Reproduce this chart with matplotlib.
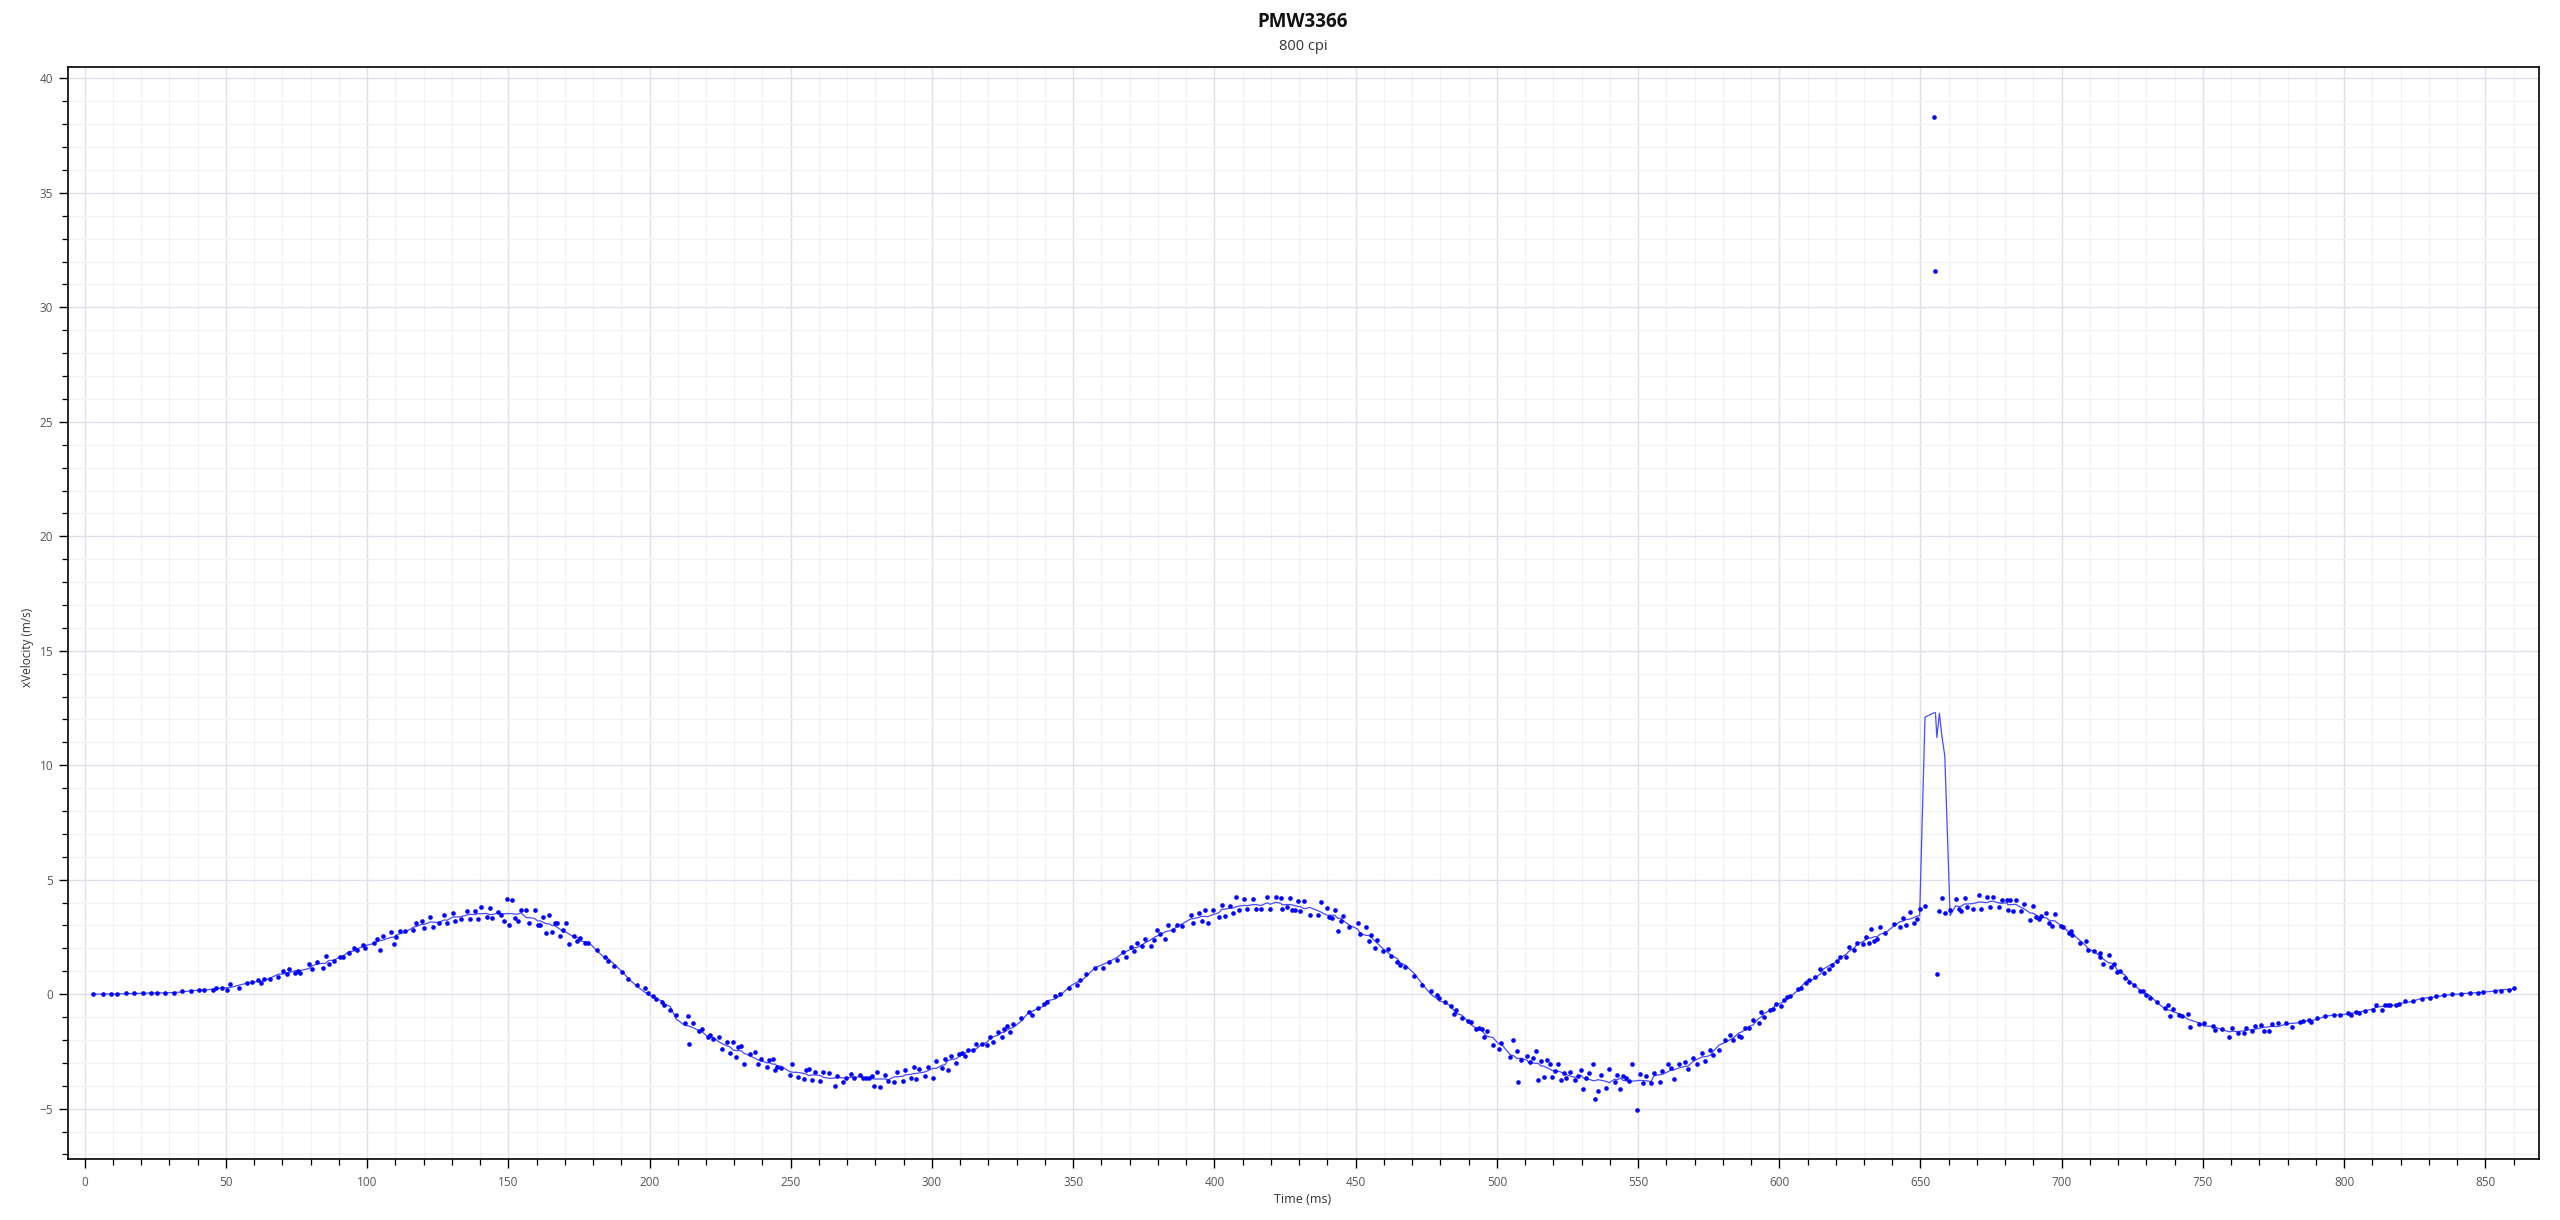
import numpy as np
import matplotlib
matplotlib.use("Agg")
import matplotlib.pyplot as plt
from matplotlib.ticker import MultipleLocator

plt.rcParams['font.family'] = ['Open Sans', 'DejaVu Sans']

title = "PMW3366"
subtitle = "800 cpi"
x_label = "Time (ms)"
y_label = "xVelocity (m/s)"

time_ms = [
    2.8, 6.6, 9.5, 11.6, 14.5, 17.5, 20.6, 23.5, 25.5, 28.4, 31.5, 34.5, 37.5, 40.4, 42.4, 45.4,
    46.5, 48.5, 50.5, 51.5, 54.5, 57.5, 59.4, 61.4, 62.5, 63.4, 65.5, 68.5, 70.3, 71.5, 72.4, 74.4,
    75.4, 76.4, 79.3, 80.4, 82.4, 84.3, 85.3, 86.4, 88.4, 90.5, 91.3, 93.6, 95.4, 96.5, 98.5, 99.4,
    102.5, 103.5, 104.6, 105.6, 108.4, 109.4, 110.3, 111.5, 113.4, 116.4, 117.3, 119.3, 120.3, 122.4,
    123.4, 125.3, 127.3, 128.3, 130.4, 131.3, 133.3, 135.4, 136.4, 138.3, 139.3, 140.3, 142.4, 143.4,
    144.3, 146.3, 147.3, 148.4, 149.4, 150.3, 151.3, 152.3, 153.3, 154.4, 156.4, 157.3, 159.3, 160.4,
    161.3, 162.4, 163.4, 164.3, 165.4, 166.4, 167.4, 168.4, 169.4, 170.3, 171.5, 173.3, 174.4, 175.5,
    177.3, 178.3, 181.4, 184.3, 185.3, 187.3, 190.4, 192.5, 195.5, 198.3, 199.3, 201.3, 202.4, 204.3,
    205.3, 207.3, 209.4, 212.5, 213.7, 213.8,
    215.5, 217.5, 218.5, 220.6, 221.4, 222.5, 224.5, 225.5, 227.5, 228.4, 229.6, 230.5, 231.5, 232.5,
    233.5, 235.4, 237.4, 238.5, 239.5, 241.5, 242.4, 243.6, 244.5, 245.3, 246.5, 249.6, 250.6, 252.4,
    254.6, 255.5, 256.4, 257.6, 258.5, 260.5, 261.5, 263.6, 265.5, 266.5, 268.5, 269.5, 271.4, 272.5,
    274.5, 275.5, 276.5, 277.6, 278.6, 279.6, 280.5, 281.5, 283.5, 284.6, 286.6, 287.5, 289.6, 290.6,
    292.6, 293.6, 294.5, 295.5, 297.5, 298.6, 300.4, 301.5, 303.6, 304.6, 305.6, 306.6, 308.5, 309.7,
    310.6, 311.6, 312.6, 314.6, 315.5, 317.6, 319.6, 320.6, 321.7, 323.5, 324.7, 325.5, 326.6, 327.6,
    328.6, 331.5, 334.5, 335.4, 337.5, 339.5, 340.6, 343.5, 345.5, 348.6, 351.5, 352.5, 354.5, 357.6,
    360.5, 362.6, 365.5, 367.5, 368.7, 370.5, 371.6, 372.5, 374.5, 375.5, 377.5, 378.6, 379.6, 380.6,
    382.6, 383.6, 385.5, 386.6, 388.6, 391.6, 392.6, 394.5, 395.5, 396.5, 397.6, 399.6, 401.6, 402.7,
    403.6, 405.6, 406.6, 407.6, 408.6, 410.6, 411.6, 413.6, 414.7, 416.6, 418.6, 419.7, 421.7, 423.6,
    423.9, 425.6, 426.6, 427.6, 428.7, 429.7, 430.4,
    431.8, 433.8, 436.7, 437.7, 439.8, 440.6, 441.6, 442.6, 443.7, 444.7, 445.7, 447.8, 450.7, 451.7,
    453.6, 454.6, 455.6, 456.7, 457.7, 459.7, 461.6, 462.7, 464.7, 465.7, 467.6, 470.7, 473.6, 476.7,
    478.7, 479.7, 481.6, 483.7, 484.7, 485.7, 487.6, 489.7, 490.7, 492.7, 493.6, 494.6, 495.6, 496.6,
    498.5, 500.6, 501.6, 504.7, 505.9, 507.1, 507.6, 508.7, 510.6, 511.7, 512.7, 513.8, 514.6, 515.7,
    516.6, 517.7, 518.7, 519.7, 520.6, 521.7, 522.7, 523.7, 524.6, 525.8, 527.6, 528.6, 529.7, 530.6,
    531.7, 532.7, 534.1, 534.8, 535.8, 536.8, 538.7, 539.8, 541.7, 542.7, 543.7, 544.7, 545.8, 546.7,
    548.0, 549.7, 550.7, 551.7, 552.7, 554.6, 555.6, 557.6, 558.6, 560.6, 561.6, 562.6, 564.5, 566.6,
    567.6, 569.6, 570.7, 572.7, 573.6, 575.6, 576.6, 578.7, 580.7, 582.6, 583.7, 585.7, 586.6, 587.7,
    589.4, 590.7, 592.7, 593.6, 594.6, 596.7, 597.7, 598.7, 600.6, 601.6, 602.6, 603.7, 606.6, 607.6,
    609.6, 610.6, 612.6, 614.6, 615.7, 617.7, 618.7, 620.6, 621.6, 623.7, 624.7, 626.6, 627.6, 629.7,
    630.7, 631.7, 632.5, 633.7, 634.7, 635.7, 637.6, 640.7, 642.8, 643.7, 644.7, 646.2,
    647.8, 648.6, 649.7, 651.6, 654.8, 655.3, 655.8, 656.7, 657.6, 658.6, 660.5, 662.5, 663.5, 664.4,
    665.6, 666.5, 668.6, 670.6, 671.6, 673.5, 674.6, 675.6, 677.7, 678.7, 680.6, 680.9, 681.7, 682.6,
    683.7, 685.7, 686.5, 688.9, 689.8, 690.8, 692.0, 692.7, 694.6, 695.5, 696.6, 697.6, 699.6,
    700.4, 702.7, 703.3, 703.7, 706.5, 708.5, 709.4, 711.5, 713.4, 713.6, 714.6, 716.6, 717.4, 718.4,
    719.7, 720.6, 722.5, 723.9, 725.5, 727.8, 728.7, 729.8, 731.3, 733.6, 736.7, 737.5, 738.5, 739.3,
    741.6, 742.5, 744.7, 745.4, 748.6, 750.3, 753.5, 754.3, 756.6, 759.4, 760.4, 762.4, 764.4, 765.4,
    767.4, 768.3, 770.5, 771.5, 773.3, 774.4, 776.5, 779.4, 781.4, 784.4, 785.4, 787.5, 788.1, 790.3,
    793.4, 796.4, 798.4, 801.3, 802.4, 804.3, 805.3, 807.4, 810.3, 811.4, 813.4, 814.3, 815.4, 816.3,
    818.3, 819.4, 821.5, 824.4, 827.4, 830.4, 832.4, 835.5, 838.3, 841.4, 844.4, 847.4, 849.3, 853.3,
    855.5, 858.4, 860.2,
]

x_velocity = [
    0.00, 0.00, 0.00, 0.01, 0.03, 0.03, 0.03, 0.07, 0.04, 0.07, 0.04, 0.12, 0.12, 0.19, 0.17, 0.19,
    0.25, 0.29, 0.17, 0.44, 0.29, 0.49, 0.55, 0.60, 0.47, 0.65, 0.65, 0.73, 1.03, 0.86, 1.09, 0.92,
    1.02, 0.92, 1.32, 1.09, 1.41, 1.15, 1.67, 1.32, 1.47, 1.64, 1.64, 1.82, 2.02, 1.91, 2.14, 2.02,
    2.25, 2.43, 1.93, 2.52, 2.72, 2.20, 2.49, 2.78, 2.78, 2.81, 3.10, 3.21, 2.87, 3.36,
    2.92, 3.10, 3.45, 3.10, 3.56, 3.20, 3.27, 3.65, 3.30, 3.62, 3.30, 3.81, 3.37, 3.75,
    3.33, 3.59, 3.45, 3.19, 4.16, 3.00, 4.10, 3.33, 3.19, 3.68, 3.68, 3.13, 3.68, 3.04,
    3.04, 3.37, 2.69, 3.45, 2.72, 3.13, 3.13, 2.52, 2.81, 3.13, 2.17, 2.52, 2.31, 2.46,
    2.23, 2.25, 1.91, 1.64, 1.44, 1.24, 0.99, 0.68, 0.39, 0.26, 0.07, -0.10, -0.19, -0.35,
    -0.49, -0.68, -0.93, -1.27, -0.95, -2.18,
    -1.25, -1.60, -1.54, -1.85, -1.77, -1.96, -1.89, -2.39, -2.08, -2.57, -2.08, -2.75, -2.31, -2.28,
    -3.05, -2.63, -2.52, -3.07, -2.84, -3.17, -2.87, -2.82, -3.30, -3.16, -3.23, -3.51, -3.07, -3.61,
    -3.71, -3.33, -3.26, -3.77, -3.42, -3.80, -3.39, -3.45, -4.01, -3.56, -3.84, -3.64, -3.48, -3.64,
    -3.53, -3.67, -3.68, -3.64, -3.56, -4.01, -3.42, -4.07, -3.52, -3.80, -3.83, -3.42, -3.80, -3.30,
    -3.68, -3.20, -3.69, -3.27, -3.56, -3.20, -3.64, -2.94, -3.21, -2.84, -3.30, -2.69, -3.00, -2.60,
    -2.57, -2.72, -2.46, -2.44, -2.17, -2.17, -2.24, -1.85, -2.09, -1.67, -1.88, -1.51, -1.41, -1.66,
    -1.29, -1.06, -0.80, -0.92, -0.60, -0.41, -0.36, -0.10, 0.00, 0.25, 0.41, 0.64, 0.86, 1.16,
    1.13, 1.41, 1.50, 1.85, 1.64, 2.08, 1.88, 2.24, 2.11, 2.39, 2.11, 2.36, 2.81, 2.62,
    2.43, 3.01, 2.81, 3.04, 2.98, 3.46, 3.13, 3.53, 3.19, 3.68, 3.13, 3.68, 3.36, 3.90,
    3.43, 3.83, 3.56, 4.23, 3.68, 4.16, 3.71, 4.16, 3.71, 3.71, 4.23, 3.71, 4.23, 4.20,
    3.71, 3.80, 4.20, 3.68, 3.68, 4.09, 3.62,
    4.09, 3.48, 3.45, 4.01, 3.77, 3.39, 3.33, 3.68, 2.78, 3.20, 3.42, 2.92, 3.13, 2.63,
    2.95, 2.31, 2.57, 2.02, 2.37, 1.88, 1.98, 1.67, 1.41, 1.27, 1.18, 0.81, 0.39, 0.12,
    -0.03, -0.16, -0.36, -0.51, -0.86, -0.71, -1.03, -1.19, -1.21, -1.53, -1.48, -1.50, -1.89, -1.59,
    -2.20, -2.40, -2.14, -2.73, -2.02, -2.49, -3.83, -2.87, -2.72, -2.97, -2.78, -2.49, -3.75, -2.92,
    -3.61, -2.89, -3.04, -3.62, -3.36, -3.07, -3.77, -3.46, -3.65, -3.42, -3.75, -3.56, -3.30, -4.13,
    -3.65, -3.46, -3.04, -4.58, -4.23, -3.53, -4.10, -3.29, -3.83, -3.53, -4.15, -3.56, -3.65, -3.80,
    -3.04, -5.05, -3.48, -3.90, -3.59, -3.90, -3.45, -3.84, -3.35, -3.07, -3.24, -3.69, -3.07, -2.97,
    -3.29, -2.78, -3.07, -2.56, -2.92, -2.43, -2.66, -2.43, -1.99, -1.79, -2.02, -1.82, -1.88, -1.47,
    -1.47, -1.12, -1.24, -0.80, -1.00, -0.71, -0.64, -0.45, -0.51, -0.25, -0.12, -0.07, 0.23, 0.26,
    0.48, 0.61, 0.76, 1.11, 0.92, 1.09, 1.28, 1.47, 1.64, 1.64, 2.04, 1.93, 2.23, 2.18,
    2.49, 2.23, 2.84, 2.31, 2.43, 2.92, 2.69, 3.05, 2.95, 3.33, 3.00, 3.60,
    3.10, 3.27, 3.71, 3.86, 38.30, 31.60, 0.87, 3.65, 4.22, 3.55, 3.68, 4.17, 3.71, 3.62,
    4.20, 3.80, 3.74, 4.34, 3.74, 4.26, 3.82, 4.26, 3.82, 4.13, 4.13, 3.68, 4.12, 3.65,
    4.10, 3.62, 3.96, 3.25, 3.87, 3.39, 3.30, 3.40, 3.53, 3.10, 2.96, 3.49, 2.96,
    2.95, 2.66, 2.78, 2.60, 2.25, 2.31, 1.91, 1.88, 1.82, 1.61, 1.31, 1.70, 1.18, 1.32,
    0.95, 1.03, 0.71, 0.54, 0.41, 0.13, 0.13, -0.04, -0.17, -0.35, -0.60, -0.47, -0.97, -0.65,
    -0.92, -0.95, -0.87, -1.43, -1.32, -1.27, -1.37, -1.56, -1.51, -1.85, -1.47, -1.70, -1.70, -1.47,
    -1.61, -1.41, -1.34, -1.61, -1.59, -1.32, -1.28, -1.28, -1.45, -1.21, -1.16, -1.15, -1.21, -1.03,
    -0.97, -0.92, -0.93, -0.83, -0.89, -0.76, -0.83, -0.73, -0.67, -0.47, -0.68, -0.48, -0.48, -0.47,
    -0.48, -0.41, -0.32, -0.29, -0.19, -0.15, -0.10, -0.04, -0.01, 0.01, 0.04, 0.07, 0.09, 0.15,
    0.16, 0.19, 0.28,
]

t = np.asarray(time_ms, dtype=float)
v = np.asarray(x_velocity, dtype=float)
n = min(len(t), len(v))
t, v = t[:n], v[:n]

# moving-average trend line (centered 10 ms window) evaluated at each sample time
half_window = 5.0
trend = np.array([v[np.abs(t - ti) <= half_window].mean() for ti in t])

fig = plt.figure(figsize=(25.6, 12.2), dpi=100)
ax = fig.add_axes([0.02645, 0.0500, 0.96535, 0.89508])

ax.set_xlim(-6, 869)
ax.set_ylim(-7.2, 40.5)

ax.xaxis.set_major_locator(MultipleLocator(50))
ax.xaxis.set_minor_locator(MultipleLocator(10))
ax.yaxis.set_major_locator(MultipleLocator(5))
ax.yaxis.set_minor_locator(MultipleLocator(1))

ax.grid(which='major', color='#e0e0ea', linewidth=1.0, zorder=0)
ax.grid(which='minor', color='#f0f0f5', linewidth=0.9, zorder=0)
ax.set_axisbelow(True)

ax.plot(t, trend, color='#4a4aff', linewidth=0.9, zorder=2)
ax.scatter(t, v, s=11, color='#0000ff', linewidths=0, zorder=3)

for sp in ax.spines.values():
    sp.set_color('black')
    sp.set_linewidth(1.2)

ax.tick_params(which='major', direction='out', length=6.5, width=1.0, color='black',
               labelsize=8.5, labelcolor='#555555', pad=4)
ax.tick_params(which='minor', direction='out', length=4, width=0.9, color='black')
ax.tick_params(axis='x', which='major', pad=6)

fig.text(0.509, 0.982, title, ha='center', va='center', fontsize=13.5, fontweight='bold', color='#111111')
fig.text(0.509, 0.9615, subtitle, ha='center', va='center', fontsize=10.5, color='#333333')
fig.text(0.509, 0.0172, x_label, ha='center', va='center', fontsize=9, color='#333333')
fig.text(0.0108, 0.469, y_label, ha='center', va='center', fontsize=8.5, color='#333333', rotation=90)

fig.savefig('out.png', dpi=100, facecolor='white')
